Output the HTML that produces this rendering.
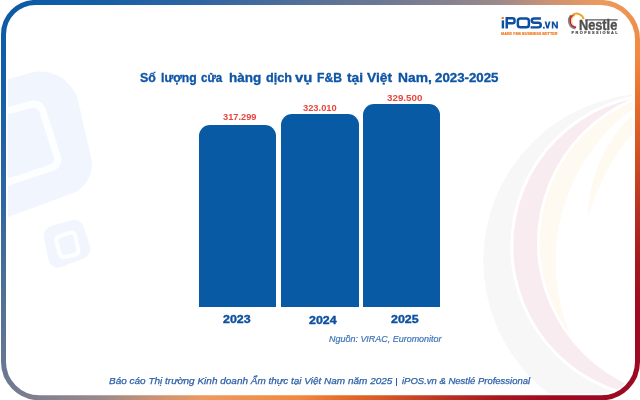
<!DOCTYPE html>
<html><head><meta charset="utf-8">
<style>
html,body{margin:0;padding:0;background:#fff;}
body{width:640px;height:400px;position:relative;overflow:hidden;font-family:"Liberation Sans",sans-serif;}
.a{position:absolute;white-space:nowrap;}
#bg{position:absolute;left:0;top:0;}
#title span{position:absolute;top:71.2px;white-space:nowrap;font-size:12px;line-height:14px;font-weight:bold;color:#0d55a5;-webkit-text-stroke:0.3px #0d55a5;transform-origin:0 0;}
.bar{position:absolute;background:#075aa3;border-radius:11px 11px 0 0;}
.val{position:absolute;color:#e8463f;font-weight:bold;font-size:9px;line-height:9px;}
.yr{position:absolute;color:#0b4f9f;font-weight:bold;font-size:11px;line-height:11px;transform-origin:0 0;transform:scaleX(1.13);-webkit-text-stroke:0.35px #0b4f9f;}
</style></head>
<body>
<svg id="bg" width="640" height="400" viewBox="0 0 640 400">
<defs>
<linearGradient id="g" gradientUnits="userSpaceOnUse" x1="0" y1="0" x2="520" y2="520">
<stop offset="0.0000" stop-color="#0a59a8"/>
<stop offset="0.0981" stop-color="#1560a5"/>
<stop offset="0.1942" stop-color="#2f64a2"/>
<stop offset="0.2904" stop-color="#517097"/>
<stop offset="0.3865" stop-color="#737a92"/>
<stop offset="0.4827" stop-color="#9d8a8a"/>
<stop offset="0.5308" stop-color="#cc9272"/>
<stop offset="0.5788" stop-color="#ec9a5e"/>
<stop offset="0.6702" stop-color="#f28840"/>
<stop offset="0.7087" stop-color="#e66d2a"/>
<stop offset="0.7471" stop-color="#d85a25"/>
<stop offset="0.8144" stop-color="#b83020"/>
<stop offset="0.8625" stop-color="#a5181e"/>
<stop offset="0.9106" stop-color="#a00a20"/>
<stop offset="1.0000" stop-color="#9a0a22"/>
</linearGradient>
<clipPath id="inner"><rect x="7.8" y="6.6" width="624.7" height="386.8" rx="30"/></clipPath>
</defs>
<g clip-path="url(#inner)">
<!-- left faint iPOS shapes -->
<path d="M -30.00 231.33 L -30.00 90.52 C -30.00 90.52 -30.00 90.52 -30.00 90.52 L 28.43 73.34 C 51.03 66.69 73.55 79.93 78.74 102.90 L 91.30 158.55 C 94.49 172.68 86.07 188.23 72.48 193.28 L -30.00 231.33 C -30.00 231.33 -30.00 231.33 -30.00 231.33 Z" fill="#f1f6fe"/>
<path d="M -30.00 198.54 L -30.00 116.94 C -30.00 116.94 -30.00 116.94 -30.00 116.94 L 31.06 100.78 C 37.13 99.17 43.61 102.71 45.55 108.69 L 60.78 155.77 C 62.80 162.02 59.39 168.77 53.15 170.85 L -30.00 198.54 C -30.00 198.54 -30.00 198.54 -30.00 198.54 Z" fill="#fdfeff"/>
<path d="M -23.00 188.83 L -23.00 122.33 C -23.00 122.33 -23.00 122.33 -23.00 122.33 L 31.93 107.79 C 34.97 106.99 38.21 108.75 39.18 111.74 L 53.81 156.98 C 54.82 160.11 53.12 163.48 50.00 164.52 L -23.00 188.83 C -23.00 188.83 -23.00 188.83 -23.00 188.83 Z" fill="#f1f6fe"/>
<path d="M 48.46 259.56 L 43.96 237.67 C 42.93 232.67 46.07 227.47 50.97 226.05 L 71.36 220.14 C 76.50 218.66 82.00 221.58 83.65 226.67 L 89.87 245.88 C 91.47 250.84 88.83 256.39 83.98 258.28 L 61.88 266.87 C 55.79 269.24 49.78 265.97 48.46 259.56 Z" fill="#f1f6fe"/>
<path d="M 58.25 234.40 L 69.50 230.85 C 72.97 229.75 76.40 231.74 77.17 235.29 L 80.29 249.60 C 80.99 252.83 78.94 256.02 75.72 256.74 L 65.11 259.10 C 62.06 259.77 58.89 257.89 58.04 254.89 L 54.29 241.77 C 53.40 238.67 55.18 235.37 58.25 234.40 Z" fill="#fdfeff"/>
<path d="M 59.92 238.07 L 70.19 234.83 C 71.63 234.37 73.06 235.20 73.38 236.68 L 76.27 249.97 C 76.56 251.31 75.71 252.64 74.37 252.94 L 64.70 255.09 C 63.43 255.37 62.11 254.59 61.75 253.34 L 58.27 241.14 C 57.90 239.85 58.64 238.47 59.92 238.07 Z" fill="#f1f6fe"/>
</g>
<!-- right faint swooshes -->
<mask id="m1" maskUnits="userSpaceOnUse" x="0" y="0" width="640" height="400"><rect width="640" height="400" fill="#fff"/><circle cx="664" cy="246.4" r="153.7" fill="#000"/></mask>
<mask id="m2" maskUnits="userSpaceOnUse" x="0" y="0" width="640" height="400"><rect width="640" height="400" fill="#fff"/><circle cx="693.4" cy="242.6" r="156.4" fill="#000"/></mask>
<mask id="m3" maskUnits="userSpaceOnUse" x="0" y="0" width="640" height="400"><rect width="640" height="400" fill="#fff"/><circle cx="746.5" cy="261.8" r="190.8" fill="#000"/></mask>
<g clip-path="url(#inner)">
<circle cx="650.4" cy="260.8" r="167.1" fill="#f7f7f8" mask="url(#m1)"/>
<circle cx="664" cy="246.4" r="150.8" fill="#f9ecf1" mask="url(#m2)"/>
<circle cx="693.4" cy="242.6" r="153.8" fill="#fefaf1" mask="url(#m3)"/>
<path d="M587.5 219 Q590 150 640 108 L640 126 Q605 160 587.5 219 Z" fill="#fefaf0"/>
</g>
<!-- iPOS logo -->
<g id="ipos" opacity="0.995">
<rect x="501.6" y="17" width="2.3" height="2.1" rx="0.5" fill="#f47b20"/>
<rect x="501.7" y="20.4" width="2.4" height="8" fill="#0d4fa0"/>
<path d="M506.75 28.4 V18.25 H512.6 Q514.5 18.25 514.5 20.1 V21.4 Q514.5 23.2 512.6 23.2 H506.75" fill="none" stroke="#0d4fa0" stroke-width="2.5"/>
<rect x="517.85" y="18.5" width="11.05" height="8.8" rx="2.6" fill="none" stroke="#0d4fa0" stroke-width="2.5"/>
<path d="M540.9 18.45 H534.2 Q531.75 18.45 531.75 20.6 Q531.75 22.75 534.2 22.75 H538.3 Q540.8 22.75 540.8 25.05 Q540.8 27.35 538.3 27.35 H530.6" fill="none" stroke="#0d4fa0" stroke-width="2.45"/>
<rect x="543" y="26.8" width="1.7" height="1.8" fill="#0d4fa0"/>
<path d="M544.6 21.4 H546.4 L547.55 26.1 L548.7 21.4 H550.5 L548.5 28.6 H546.6 Z" fill="#0d4fa0"/>
<path d="M551.8 28.6 V21.4 H553.6 L556.3 25.9 V21.4 H557.9 V28.6 H556.1 L553.4 24.1 V28.6 Z" fill="#0d4fa0"/>
<text x="501" y="35" font-family="Liberation Sans" font-weight="bold" font-size="3.4" fill="#f07a26" stroke="#f07a26" stroke-width="0.15" textLength="56.5" lengthAdjust="spacingAndGlyphs">MAKE F&amp;B BUSINESS BETTER</text>
</g>
<!-- Nestle logo -->
<g id="nestle" opacity="0.995">
<path d="M575.31 28.68 A8.00 8.00 0 0 1 571.04 15.14" fill="none" stroke="#7f8888" stroke-width="1.5"/>
<path d="M576.12 27.37 A6.60 6.60 0 0 1 574.44 14.60" fill="none" stroke="#b8223e" stroke-width="1.7"/>
<path d="M573.36 24.78 A5.20 5.20 0 0 1 574.50 16.09" fill="none" stroke="#f8d870" stroke-width="1.3"/>
<path d="M572.27 15.13 A7.20 7.20 0 0 1 583.74 19.30" fill="none" stroke="#f2a227" stroke-width="1.9"/>
<text x="578.9" y="29.5" font-family="Liberation Sans" font-weight="bold" font-size="13.8" fill="#4f4f4f" stroke="#4f4f4f" stroke-width="0.35" textLength="38.4" lengthAdjust="spacingAndGlyphs">Nestle</text>
<rect x="585.2" y="19.3" width="32.4" height="1.15" fill="#4f4f4f"/>
<text x="571.6" y="34.2" font-family="Liberation Sans" font-weight="bold" font-size="3.9" fill="#505050" stroke="#505050" stroke-width="0.2" textLength="46" lengthAdjust="spacing">PROFESSIONAL</text>
</g>
<path d="M35.50 2.4 H600.50 C620.94 2.4 637.5 18.96 637.5 39.40 V361.80 C637.5 381.68 621.38 397.8 601.50 397.8 H39.50 C19.62 397.8 3.5 381.68 3.5 361.80 V34.40 C3.5 16.73 17.83 2.4 35.50 2.4 Z" fill="none" stroke="url(#g)" stroke-width="5"/>
</svg>

<div id="title">
<span style="left:140.30px;transform:scaleX(1.0312);">Số</span>
<span style="left:160.50px;transform:scaleX(1.0143);">lượng</span>
<span style="left:201.20px;transform:scaleX(0.9609);">cửa</span>
<span style="left:229.20px;transform:scaleX(1.1214);">hàng</span>
<span style="left:266.00px;transform:scaleX(1.0520);">dịch</span>
<span style="left:295.20px;transform:scaleX(1.2357);">vụ</span>
<span style="left:317.20px;transform:scaleX(1.0120);">F&amp;B</span>
<span style="left:347.00px;transform:scaleX(1.1429);">tại</span>
<span style="left:367.20px;transform:scaleX(1.1500);">Việt</span>
<span style="left:397.60px;transform:scaleX(1.1517);">Nam,</span>
<span style="left:434.90px;transform:scaleX(1.1052);">2023-2025</span>
</div>

<div class="bar" style="left:198.7px;top:124.8px;width:77.5px;height:182.2px;"></div>
<div class="bar" style="left:281px;top:113.5px;width:77.6px;height:193.5px;"></div>
<div class="bar" style="left:363.2px;top:103.5px;width:77.3px;height:203.5px;"></div>

<div id="v1" class="val" style="left:223px;top:113px;transform-origin:0 0;transform:scaleX(1.03);">317.299</div>
<div id="v2" class="val" style="left:302.8px;top:103.8px;transform-origin:0 0;transform:scaleX(1.035);">323.010</div>
<div id="v3" class="val" style="left:387px;top:93.5px;transform-origin:0 0;transform:scaleX(1.09);">329.500</div>

<div id="y1" class="yr" style="left:223px;top:314px;">2023</div>
<div id="y2" class="yr" style="left:309px;top:315px;">2024</div>
<div id="y3" class="yr" style="left:391px;top:314px;">2025</div>

<div id="src" class="a" style="left:328.5px;top:334.5px;transform-origin:0 0;transform:scaleX(1.054);font-size:8.5px;line-height:9px;font-style:italic;color:#3f74b8;-webkit-text-stroke:0.2px #3f74b8;">Nguồn: VIRAC, Euromonitor</div>

<div id="foot" class="a" style="left:108.6px;top:376.2px;transform-origin:0 0;transform:scaleX(1.11);font-size:9px;line-height:10px;font-style:italic;color:#2d5fa8;-webkit-text-stroke:0.25px #2d5fa8;">Báo cáo Thị trường Kinh doanh Ẩm thực tại Việt Nam năm 2025</div>
<div id="bar" style="position:absolute;left:395.6px;top:378px;width:1.3px;height:8px;background:#2d5fa8;"></div>
<div id="foot2" class="a" style="left:402.4px;top:376.2px;transform-origin:0 0;transform:scaleX(1.054);font-size:9px;line-height:10px;font-style:italic;color:#2d5fa8;-webkit-text-stroke:0.25px #2d5fa8;">iPOS.vn &amp; Nestlé Professional</div>

</body></html>
